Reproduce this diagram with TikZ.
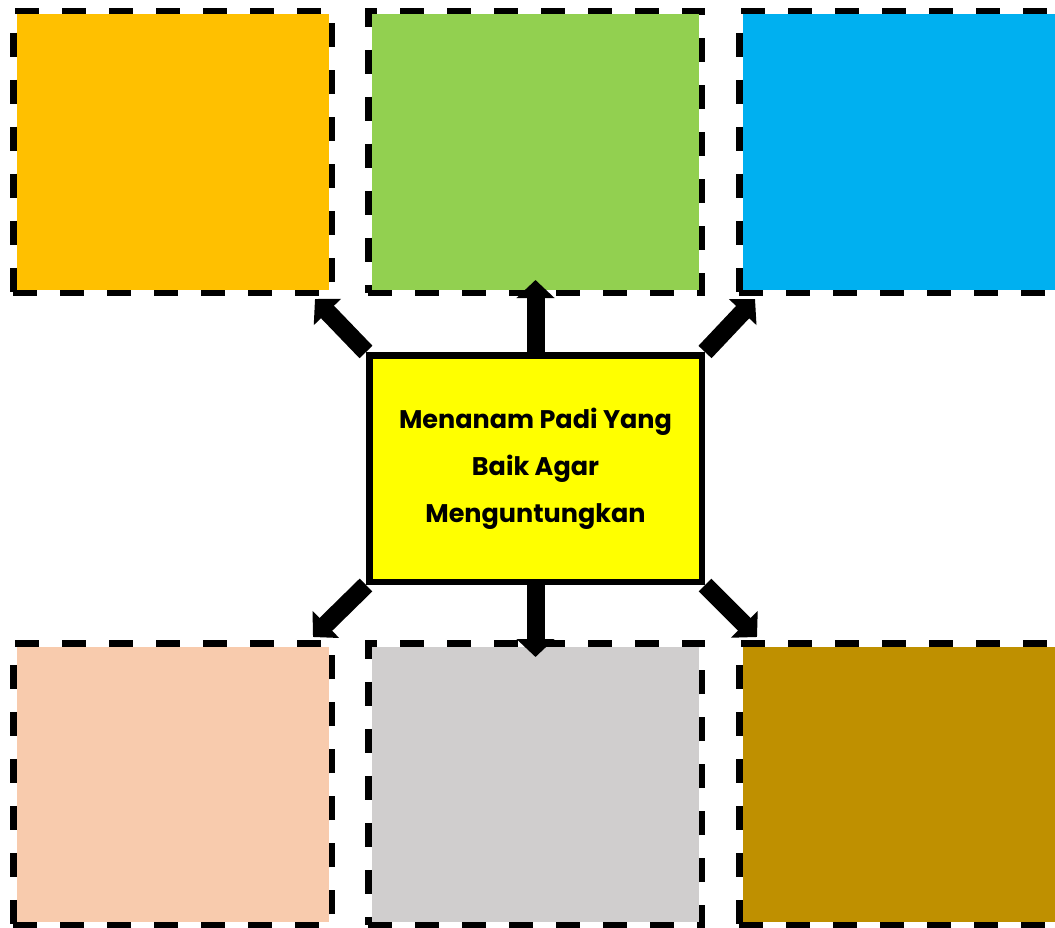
\documentclass[tikz,border=0pt]{standalone}
\usepackage{fontspec}
\setmainfont{Poppins}
\usetikzlibrary{arrows.meta,backgrounds}

\definecolor{oranye}{HTML}{FFC000}
\definecolor{hijau}{HTML}{92D050}
\definecolor{biru}{HTML}{00B0F0}
\definecolor{krem}{HTML}{F8CBAD}
\definecolor{abu}{HTML}{D0CECE}
\definecolor{coklat}{HTML}{BF9000}
\definecolor{kuning}{HTML}{FFFF00}

\tikzset{
  kotak/.style={draw, line width=6.5pt, dash pattern=on 24pt off 23pt,
    inner sep=0pt, minimum width=318.5pt, minimum height=281.5pt,
    path picture={\fill[#1] ([shift={(3.25pt,3.25pt)}]path picture bounding box.south west)
      rectangle ([shift={(-3.25pt,-3.25pt)}]path picture bounding box.north east);}},
  pusat/.style={draw, line width=6.5pt, fill=kuning, inner sep=0pt,
    minimum width=332.5pt, minimum height=226.5pt, align=center,
    font=\fontsize{25.5}{47}\selectfont\bfseries},
  panah/.style={line width=18pt, -{Triangle[length=18pt,width=37pt]}}
}

\begin{document}
\begin{tikzpicture}[x=1pt,y=-1pt]
  \useasboundingbox (0,0) rectangle (1055,928);

  \node[pusat] (padi) at (535.5,468.5) {Menanam Padi Yang\\Baik Agar\\Menguntungkan};

  \coordinate (ujungtl) at (315,299);
  \coordinate (ujungtc) at (536,280);
  \coordinate (ujungtr) at (755,299);
  \coordinate (ujungbl) at (313,637);
  \coordinate (ujungbc) at (536,657);
  \coordinate (ujungbr) at (757,637);

  \begin{pgfonlayer}{background}
    \fill[white] (0,0) rectangle (1055,928);

    \node[kotak=oranye] (tl) at (172.5,152) {};
    \node[kotak=hijau, minimum width=333.5pt] (tc) at (535,152) {};
    \node[kotak=biru] (tr) at (898.5,152) {};
    \node[kotak=krem] (bl) at (172.5,784) {};
    \node[kotak=abu, minimum width=333.5pt] (bc) at (535,784) {};
    \node[kotak=coklat] (br) at (898.5,784) {};

    \draw[panah] (padi.north west) -- (ujungtl);
    \draw[panah] (padi.north) -- (padi.north |- ujungtc);
    \draw[panah] (padi.north east) -- (ujungtr);
    \draw[panah] (padi.south west) -- (ujungbl);
    \draw[panah] (padi.south) -- (padi.south |- ujungbc);
    \draw[panah] (padi.south east) -- (ujungbr);
  \end{pgfonlayer}
\end{tikzpicture}
\end{document}
